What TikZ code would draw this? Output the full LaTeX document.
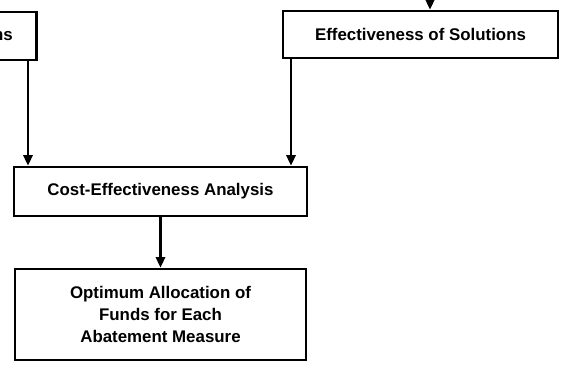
\documentclass[tikz,border=0pt]{standalone}
\usepackage{fontspec}
\setmainfont{Liberation Sans}
\usepackage{tikz}
\usetikzlibrary{positioning, arrows.meta}

\begin{document}
\begin{tikzpicture}[
                x=0.025cm, y=-0.025cm,
                mybox/.style={draw, line width=1.8pt, align=center, inner sep=0pt,
                              font=\bfseries\fontsize{12}{15.5}\selectfont},
                myarrow/.style={-{Triangle[length=7.5pt, width=6.5pt]}, line width=1.8pt}
                ]
                \useasboundingbox (0,0) rectangle (562,368);

                % boxes
                \node[mybox, anchor=east, minimum height=1.2cm, inner xsep=0.6cm,
                      text width=6cm, align=right] (sol) at (38,36) {ns};
                \node[mybox, minimum width=6.875cm, minimum height=1.175cm] (eff) at (420.5,34.5)
                    {Effectiveness of Solutions};
                \node[mybox, minimum width=7.325cm, minimum height=1.225cm] (cea) at (160.5,191.5)
                    {Cost-Effectiveness Analysis};
                \node[mybox, minimum width=7.275cm, minimum height=2.275cm] (opt) at (160.5,314.5)
                    {Optimum Allocation of\\ Funds for Each\\ Abatement Measure};

                % arrows
                \coordinate (top) at (430,-2);
                \coordinate (lft) at (28,0);
                \coordinate (rgt) at (291,0);
                \draw[myarrow] (top) -- (top |- eff.north);
                \draw[myarrow] (sol.south -| lft) -- (lft |- cea.north);
                \draw[myarrow] (eff.south -| rgt) -- (rgt |- cea.north);
                \draw[myarrow] (cea.south) -- (opt.north);
\end{tikzpicture}
\end{document}
